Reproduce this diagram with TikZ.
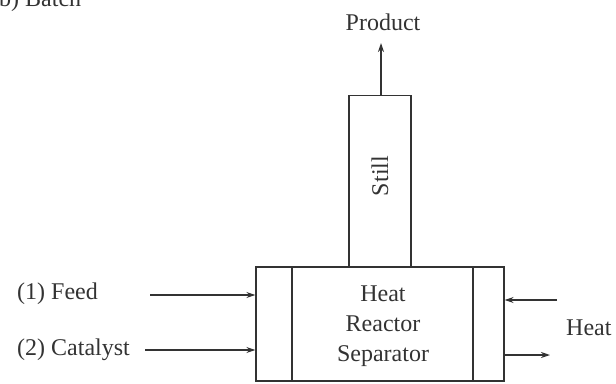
\documentclass[tikz,border=0pt]{standalone}
\usepackage{fontspec}
\setmainfont{Liberation Serif}
\usetikzlibrary{arrows.meta}
\definecolor{ink}{HTML}{333333}
\tikzset{
  lbl/.style={font=\fontsize{24}{30}\selectfont, text=ink, inner sep=0pt},
  box/.style={draw=ink, line width=1.3pt, inner sep=0pt},
  flow/.style={draw=ink, line width=1.3pt, -{Stealth[length=9pt,width=6pt]}},
  wall/.style={draw=ink, line width=1.1pt}
}
\begin{document}
\begin{tikzpicture}[x=1pt,y=-1pt]
\useasboundingbox (0,0) rectangle (616,383);
\clip (0,0) rectangle (616,383);
% title (cut at top)
\node[lbl, anchor=base west] (title) at (-9,6) {(b) Batch};
% reactor
\node[box, minimum width=248pt, minimum height=114pt] (reactor) at (380,324) {};
\node[lbl, align=center] (rtext) at (383,326) {Heat\\Reactor\\Separator};
\coordinate (wl) at (292,324);
\coordinate (wr) at (473,324);
\draw[wall] (wl |- reactor.north) -- (wl |- reactor.south);
\draw[wall] (wr |- reactor.north) -- (wr |- reactor.south);
% still
\node[box, minimum width=62pt, minimum height=171pt, anchor=south] (still) at (380,267) {};
\node[lbl, rotate=90] (stext) at (380,176) {Still};
% product
\node[lbl, anchor=base] (product) at (383,30) {Product};
\coordinate (ptip) at (381,43);
\draw[flow] (still.north -| ptip) -- (ptip);
% feed
\node[lbl, anchor=west] (feed) at (17,294) {(1) Feed};
\coordinate (f0) at (150,295);
\draw[flow] (f0) -- (f0 -| reactor.west);
% catalyst
\node[lbl, anchor=west] (cat) at (17,350) {(2) Catalyst};
\coordinate (c0) at (145,350);
\draw[flow] (c0) -- (c0 -| reactor.west);
% heat
\node[lbl, anchor=west] (heat) at (566,328) {Heat};
\coordinate (h0) at (557,300);
\draw[flow] (h0) -- (h0 -| reactor.east);
\coordinate (h1) at (550,355);
\draw[flow] (h1 -| reactor.east) -- (h1);
\end{tikzpicture}
\end{document}
